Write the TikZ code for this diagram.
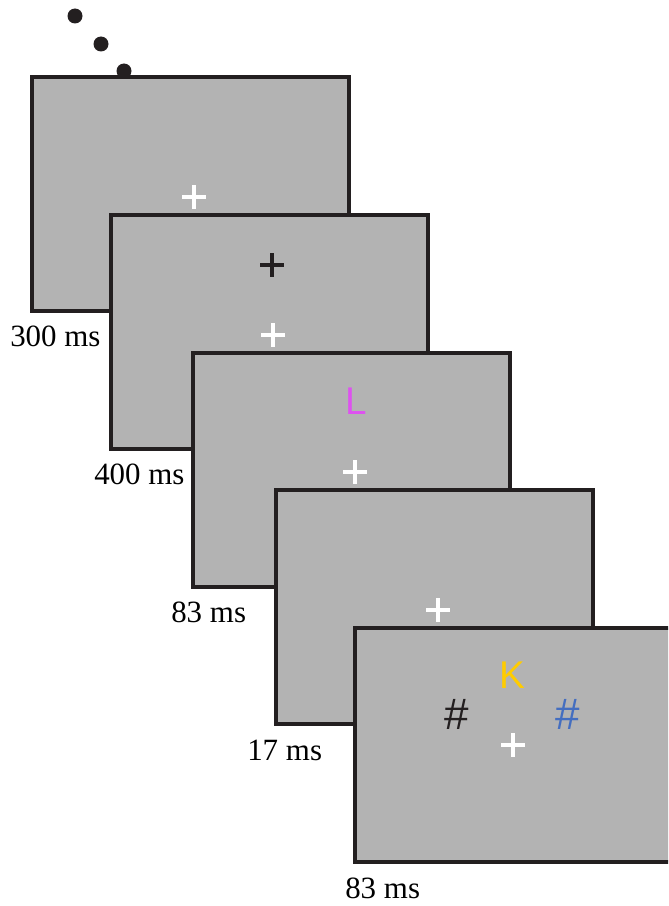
\documentclass[tikz,border=0pt]{standalone}
\usepackage{fontspec}
\setmainfont{Liberation Serif}
\newfontfamily\stimfont{Liberation Sans}

\definecolor{screengray}{RGB}{179,179,179}
\definecolor{framedark}{RGB}{35,31,32}
\definecolor{letterpink}{RGB}{222,82,240}
\definecolor{lettergold}{RGB}{255,204,0}
\definecolor{hashblue}{RGB}{68,110,192}

\begin{document}
\begin{tikzpicture}[x=0.75pt, y=-0.75pt,
    screen/.style={fill=screengray, draw=framedark, line width=2.3pt},
    fixcross/.style={line width=2.5pt, line cap=butt},
    mslabel/.style={anchor=base west, inner sep=0pt, font=\fontsize{23.2}{28}\selectfont},
    stim/.style={inner sep=0pt, font=\fontsize{29}{33}\stimfont}]

    % 0. Рамка картинки (668 x 906)
    \clip (0,0) rectangle (668,906);

    % 1. Точки сверху (продолжение последовательности)
    \fill[framedark] (75,16) circle (7.5);
    \fill[framedark] (101,44) circle (7.5);
    \fill[framedark] (124,71) circle (7.5);

    % 2. Экран 1 -- фиксация
    \draw[screen] (32,77) rectangle (349,311);
    \draw[fixcross, white] (182,197) -- (206,197) (194,185) -- (194,209);
    \node[mslabel] (t1) at (10,346) {300 ms};

    % 3. Экран 2 -- подсказка (черный крест)
    \draw[screen] (111,215) rectangle (428,449);
    \draw[fixcross, framedark] (260,265) -- (284,265) (272,253) -- (272,277);
    \draw[fixcross, white] (261,335) -- (285,335) (273,323) -- (273,347);
    \node[mslabel] (t2) at (94,484) {400 ms};

    % 4. Экран 3 -- первая цель L
    \draw[screen] (193,353) rectangle (510,587);
    \node[stim, letterpink] (lt) at (356,401) {L};
    \draw[fixcross, white] (343,472) -- (367,472) (355,460) -- (355,484);
    \node[mslabel] (t3) at (171,622) {83 ms};

    % 5. Экран 4 -- пауза
    \draw[screen] (276,490) rectangle (593,724);
    \draw[fixcross, white] (426,610) -- (450,610) (438,598) -- (438,622);
    \node[mslabel] (t4) at (247,760) {17 ms};

    % 6. Экран 5 -- вторая цель K и маски #
    \draw[screen] (355,628) rectangle (672,862);
    \node[stim, lettergold] (kt) at (512,675) {K};
    \node[stim, framedark, font=\fontsize{33}{36}\stimfont] (h1) at (457,714) {\#};
    \node[stim, hashblue, font=\fontsize{33}{36}\stimfont] (h2) at (568,714) {\#};
    \draw[fixcross, white] (501,745) -- (525,745) (513,733) -- (513,757);
    \node[mslabel] (t5) at (345,898) {83 ms};

\end{tikzpicture}
\end{document}
